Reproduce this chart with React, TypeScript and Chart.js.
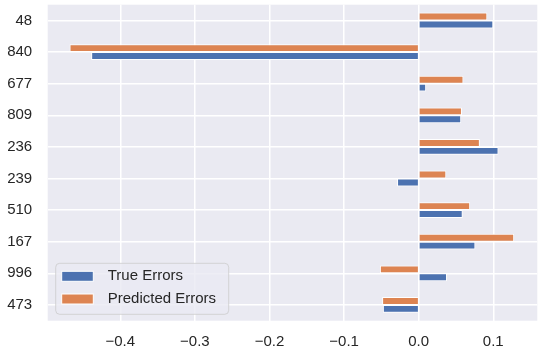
import React, { useEffect, useRef } from "react";
import { Chart, registerables } from "chart.js";

Chart.register(...registerables);

const categories = ["48", "840", "677", "809", "236", "239", "510", "167", "996", "473"];
const trueErrors = [0.100, -0.439, 0.010, 0.057, 0.107, -0.029, 0.059, 0.076, 0.038, -0.048];
const predictedErrors = [0.092, -0.468, 0.060, 0.058, 0.082, 0.037, 0.069, 0.128, -0.052, -0.049];
const xTicks = [-0.4, -0.3, -0.2, -0.1, 0.0, 0.1];

const BLUE = "#4C72B0";
const ORANGE = "#DD8452";
const BG = "#EAEAF2";
const TEXT = "#262626";
const FONT = 'Arial, "Liberation Sans", sans-serif';

const bgPlugin = {
  id: "axesBg",
  beforeDraw(chart: any) {
    const { ctx, chartArea } = chart;
    ctx.save();
    ctx.fillStyle = BG;
    ctx.fillRect(chartArea.left, chartArea.top, chartArea.right - chartArea.left, chartArea.bottom - chartArea.top);
    ctx.restore();
  },
};

const legendPlugin = {
  id: "innerLegend",
  afterDatasetsDraw(chart: any) {
    const { ctx } = chart;
    const ds = chart.data.datasets;
    const items = [ds[1], ds[0]];
    const x = 55.7, y = 263.3, w = 173, h = 51, r = 4;
    ctx.save();
    ctx.beginPath();
    ctx.moveTo(x + r, y);
    ctx.lineTo(x + w - r, y);
    ctx.quadraticCurveTo(x + w, y, x + w, y + r);
    ctx.lineTo(x + w, y + h - r);
    ctx.quadraticCurveTo(x + w, y + h, x + w - r, y + h);
    ctx.lineTo(x + r, y + h);
    ctx.quadraticCurveTo(x, y + h, x, y + h - r);
    ctx.lineTo(x, y + r);
    ctx.quadraticCurveTo(x, y, x + r, y);
    ctx.closePath();
    ctx.fillStyle = "rgba(234,234,242,0.8)";
    ctx.fill();
    ctx.strokeStyle = "rgba(204,204,204,0.8)";
    ctx.lineWidth = 1;
    ctx.stroke();
    ctx.font = `15px ${FONT}`;
    ctx.textBaseline = "middle";
    ctx.textAlign = "left";
    items.forEach((d: any, i: number) => {
      const cy = 276.3 + i * 22.7;
      ctx.fillStyle = d.backgroundColor;
      ctx.fillRect(61.7, cy - 5, 31.6, 10);
      ctx.strokeStyle = "#ffffff";
      ctx.lineWidth = 1;
      ctx.strokeRect(61.7, cy - 5, 31.6, 10);
      ctx.fillStyle = TEXT;
      ctx.fillText(d.label, 107.7, cy);
    });
    ctx.restore();
  },
};

export default function App() {
  const ref = useRef<HTMLCanvasElement>(null);
  useEffect(() => {
    document.body.style.margin = "0";
    const chart = new Chart(ref.current!, {
      type: "bar",
      data: {
        labels: categories,
        datasets: [
          {
            label: "Predicted Errors",
            data: predictedErrors,
            backgroundColor: ORANGE,
            borderColor: "#ffffff",
            borderWidth: 1,
            categoryPercentage: 0.5,
            barPercentage: 1.0,
          },
          {
            label: "True Errors",
            data: trueErrors,
            backgroundColor: BLUE,
            borderColor: "#ffffff",
            borderWidth: 1,
            categoryPercentage: 0.5,
            barPercentage: 1.0,
          },
        ],
      },
      options: {
        indexAxis: "y",
        animation: false,
        responsive: false,
        maintainAspectRatio: false,
        layout: { padding: { top: 4.7, right: 7.7, left: 0, bottom: 0 } },
        plugins: { legend: { display: false }, tooltip: { enabled: false } },
        scales: {
          x: {
            type: "linear",
            min: -0.4973,
            max: 0.159,
            afterBuildTicks: (s: any) => {
              s.ticks = xTicks.map((v) => ({ value: v }));
            },
            afterFit: (s: any) => {
              s.height = 32.3;
              s.paddingLeft = 0;
              s.paddingRight = 0;
              s.paddingTop = 0;
              s.paddingBottom = 0;
            },
            grid: { color: "#ffffff", lineWidth: 1.5, drawTicks: false },
            border: { display: false },
            ticks: {
              padding: 12,
              color: TEXT,
              font: { family: FONT, size: 15 },
              callback: (v: any) => {
                const n = Number(v);
                const s = Math.abs(n).toFixed(1);
                return n < -1e-9 ? "\u2212" + s : s;
              },
            },
          },
          y: {
            type: "category",
            offset: true,
            afterFit: (s: any) => {
              s.width = 47.7;
              s.paddingLeft = 0;
              s.paddingRight = 0;
              s.paddingTop = 0;
              s.paddingBottom = 0;
            },
            grid: { color: "#ffffff", lineWidth: 1.5, drawTicks: false, offset: false },
            border: { display: false },
            ticks: {
              padding: 15.5,
              color: TEXT,
              font: { family: FONT, size: 15 },
            },
          },
        },
      },
      plugins: [bgPlugin, legendPlugin],
    });
    return () => chart.destroy();
  }, []);
  return <canvas ref={ref} width={545} height={353} style={{ display: "block" }} />;
}
